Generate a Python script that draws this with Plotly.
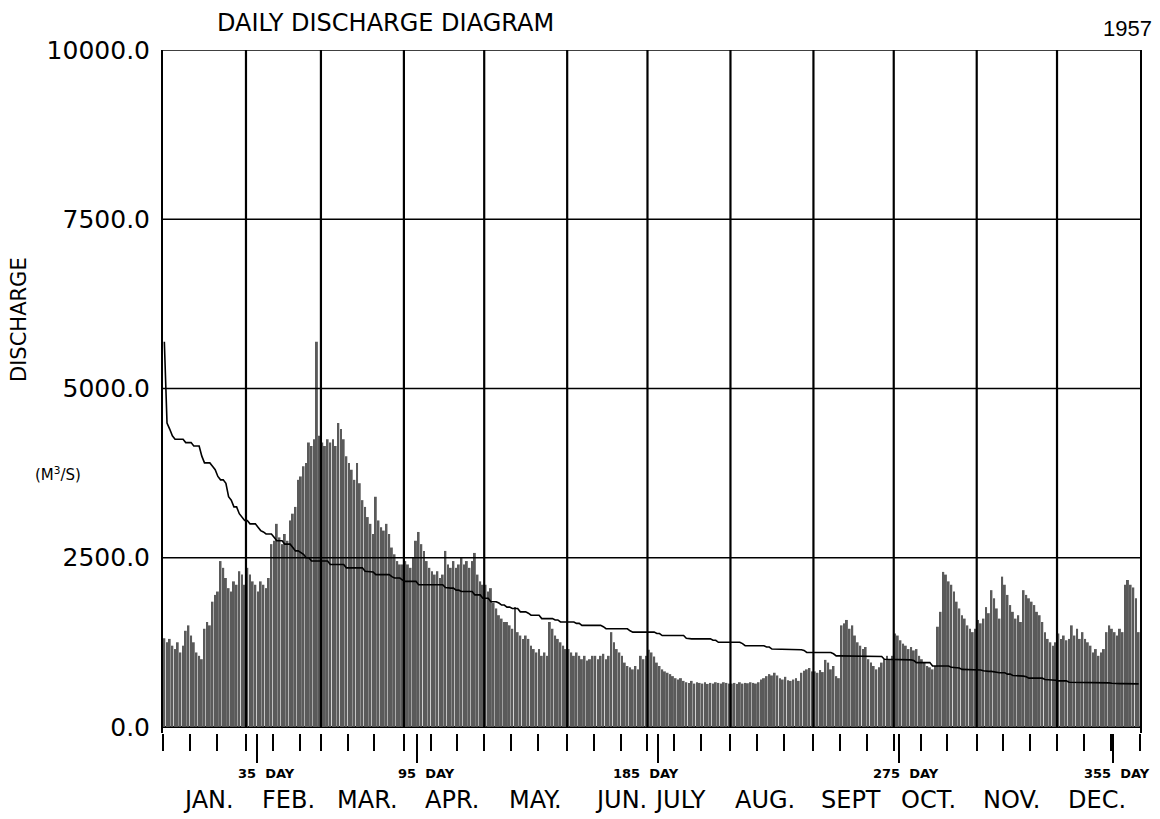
import numpy as np
import plotly.graph_objects as go

# ---------------- data ----------------
months = ["JAN.", "FEB.", "MAR.", "APR.", "MAY.", "JUN.", "JULY", "AUG.", "SEPT", "OCT.", "NOV.", "DEC."]
month_days = [31, 28, 31, 30, 31, 30, 31, 31, 30, 31, 30, 31]

jan = [1310, 1250, 1300, 1200, 1150, 1250, 1100, 1200, 1420, 1500, 1350, 1250, 1100, 1050, 1000,
       1450, 1550, 1500, 1850, 1950, 2000, 2450, 2350, 2200, 2050, 2000, 2150, 2100, 2300, 2250, 2100]
feb = [2350, 2250, 2150, 2100, 2000, 2150, 2100, 2050, 2200, 2700, 2750, 3000, 2800, 2700, 2850,
       2750, 3050, 3150, 3250, 3650, 3700, 3850, 3900, 4200, 4150, 4250, 5690, 4300]
mar = [4200, 4150, 4250, 4200, 4250, 4150, 4490, 4400, 4250, 4000, 3900, 3800, 3650, 3900, 3600,
       3350, 3250, 3100, 3000, 2850, 3400, 3050, 2950, 2900, 3000, 2850, 2650, 2550, 2450, 2400, 2400]
apr = [2450, 2400, 2350, 2500, 2750, 2880, 2700, 2600, 2450, 2350, 2300, 2250, 2300, 2200, 2250,
       2600, 2400, 2350, 2450, 2350, 2400, 2500, 2400, 2450, 2350, 2450, 2570, 2250, 2150, 2100]
may = [2100, 2000, 2050, 1830, 1750, 1650, 1600, 1550, 1550, 1500, 1450, 1770, 1400, 1350, 1300,
       1350, 1300, 1200, 1150, 1100, 1150, 1050, 1100, 1050, 1550, 1450, 1350, 1300, 1250, 1200, 1150]
jun = [1150, 1100, 1050, 1100, 1050, 1000, 1050, 980, 1000, 1050, 1050, 1000, 1050, 1080, 1000,
       1050, 1400, 1250, 1150, 1100, 1050, 950, 900, 880, 850, 900, 850, 1050, 1000, 1050]
jul = [1140, 1100, 1040, 950, 900, 850, 820, 800, 780, 750, 720, 700, 720, 680, 660,
       650, 680, 640, 660, 650, 640, 660, 635, 650, 640, 660, 650, 640, 660, 650, 640]
aug = [640, 650, 635, 660, 640, 650, 645, 660, 650, 640, 660, 700, 720, 750, 780,
       760, 800, 760, 720, 700, 740, 690, 680, 700, 720, 680, 800, 830, 850, 870, 820]
sep = [820, 800, 840, 810, 990, 950, 850, 900, 750, 720, 1500, 1530, 1580, 1450, 1500,
       1350, 1250, 1200, 1150, 1180, 1000, 950, 900, 850, 880, 950, 1000, 1050, 1000, 1050]
oct_ = [1380, 1350, 1280, 1230, 1200, 1150, 1180, 1130, 1150, 1050, 1000, 950, 900, 880, 850,
        900, 1480, 1700, 2290, 2250, 2150, 2100, 2000, 1850, 1750, 1650, 1600, 1500, 1450, 1400, 1450]
nov = [1580, 1530, 1600, 1770, 1680, 2020, 1900, 1750, 1600, 2220, 2100, 1950, 1800, 1700, 1600,
       1650, 1550, 2020, 1950, 1900, 1850, 1800, 1700, 1650, 1550, 1400, 1300, 1250, 1200, 1250]
dec = [1380, 1300, 1350, 1280, 1300, 1500, 1350, 1450, 1300, 1400, 1300, 1250, 1200, 1100, 1150,
       1050, 1100, 1150, 1400, 1500, 1450, 1400, 1350, 1450, 1400, 2100, 2170, 2100, 2060, 1900, 1400]

y_ticks = [0, 2500, 5000, 7500, 10000]
y_ticktext = ["0.0", "2500.0", "5000.0", "7500.0", "10000.0"]
day_marks = [35, 95, 185, 275, 355]
day_texts = ["35  DAY", "95  DAY", "185  DAY", "275  DAY", "355  DAY"]
title_text = "DAILY DISCHARGE DIAGRAM"
year_text = "1957"
ylabel_text = "DISCHARGE"
unit_text = "(M<sup>3</sup>/S)"

# ---------------- derived ----------------
daily = jan + feb + mar + apr + may + jun + jul + aug + sep + oct_ + nov + dec
n_days = len(daily)
day_pos = np.arange(n_days) + 0.5
duration = sorted(daily, reverse=True)
bounds = np.concatenate([[0], np.cumsum(month_days)])
dekad_ticks = [int(s + k) for s in bounds[:-1] for k in (0, 10, 20)] + [int(bounds[-1])]

# ---------------- layout geometry ----------------
# the page places the figure 8 px in from the top-left corner
OFF = 8
W, H = 1160 - OFF, 819 - OFF
PLOT_L, PLOT_R, PLOT_T, PLOT_B = 163, 1140, 50, 733   # page pixels
L, R, T, B = PLOT_L - OFF, 1160 - PLOT_R, PLOT_T - OFF, 819 - PLOT_B
PW, PH = PLOT_R - PLOT_L, PLOT_B - PLOT_T


def px(x):
    return (x - PLOT_L) / PW


def py(y):
    return (PLOT_B - y) / PH


FONT = "DejaVu Sans"

fig = go.Figure()
fig.add_trace(go.Bar(x=day_pos, y=daily, marker=dict(color="#5a5a5a", line=dict(width=0)),
                     showlegend=False, hoverinfo="x+y"))
fig.add_trace(go.Scatter(x=day_pos, y=duration, mode="lines",
                         line=dict(color="black", width=1.6), showlegend=False))

# grid lines drawn above the bars, as on the plotter sheet
shapes = []
for b in bounds[1:-1]:
    shapes.append(dict(type="line", xref="x", yref="y", x0=float(b), x1=float(b), y0=0, y1=y_ticks[-1],
                       line=dict(color="black", width=2.2), layer="above"))
for yv in y_ticks[1:]:
    shapes.append(dict(type="line", xref="x", yref="y", x0=0, x1=n_days, y0=yv, y1=yv,
                       line=dict(color="black", width=1.5), layer="above"))

ann = []
ann.append(dict(text=title_text, x=px(385), y=py(OFF), xref="paper", yref="paper", showarrow=False,
                font=dict(family=FONT, size=24, color="black"), xanchor="center", yanchor="top",
                borderpad=0))
ann.append(dict(text=year_text, x=px(1154), y=py(28), xref="paper", yref="paper", showarrow=False,
                font=dict(family="Liberation Sans Narrow, Liberation Sans", size=22, color="black"),
                xanchor="right", yanchor="middle"))
ann.append(dict(text=ylabel_text, x=px(19), y=py(320), xref="paper", yref="paper", showarrow=False,
                textangle=-90, font=dict(family=FONT, size=21, color="black"),
                xanchor="center", yanchor="middle"))
ann.append(dict(text=unit_text, x=px(58), y=py(474), xref="paper", yref="paper", showarrow=False,
                font=dict(family=FONT, size=15, color="black"), xanchor="center", yanchor="middle"))

month_label_px = [208, 288, 367, 452, 535, 621, 680, 765, 851, 928, 1011, 1097]
for m, cx in zip(months, month_label_px):
    ann.append(dict(text=m, x=px(cx), y=py(800), xref="paper", yref="paper", showarrow=False,
                    font=dict(family=FONT, size=24, color="black"), xanchor="center", yanchor="middle"))

day_label_shift = [10, 9, -12, 7, 4]
for d, t, s in zip(day_marks, day_texts, day_label_shift):
    ann.append(dict(text=t, x=d, y=py(773), xref="x", yref="paper", xshift=s, showarrow=False,
                    font=dict(family=FONT, size=13, color="black", weight="bold"),
                    xanchor="center", yanchor="middle"))

fig.update_layout(
    width=W, height=H, autosize=False,
    margin=dict(l=L, r=R, t=T, b=B, pad=0),
    paper_bgcolor="white", plot_bgcolor="white",
    bargap=0.28, shapes=shapes, annotations=ann,
    xaxis=dict(range=[0, n_days], showgrid=False, zeroline=False, showline=False,
               tickmode="array", tickvals=dekad_ticks, ticks="outside", ticklen=17, tickwidth=2,
               tickcolor="black", showticklabels=False,
               minor=dict(tickmode="array", tickvals=day_marks, ticks="outside", ticklen=29,
                          tickwidth=2, tickcolor="black", showgrid=False)),
    yaxis=dict(range=[-90, 10000], showgrid=False, zeroline=True, zerolinecolor="black", zerolinewidth=2,
               showline=True, mirror=True, linecolor="black", linewidth=2,
               tickmode="array", tickvals=y_ticks, ticktext=y_ticktext, ticks="",
               ticklabelstandoff=6,
               tickfont=dict(family=FONT, size=25, color="black")),
)

fig.write_html("out.html")
